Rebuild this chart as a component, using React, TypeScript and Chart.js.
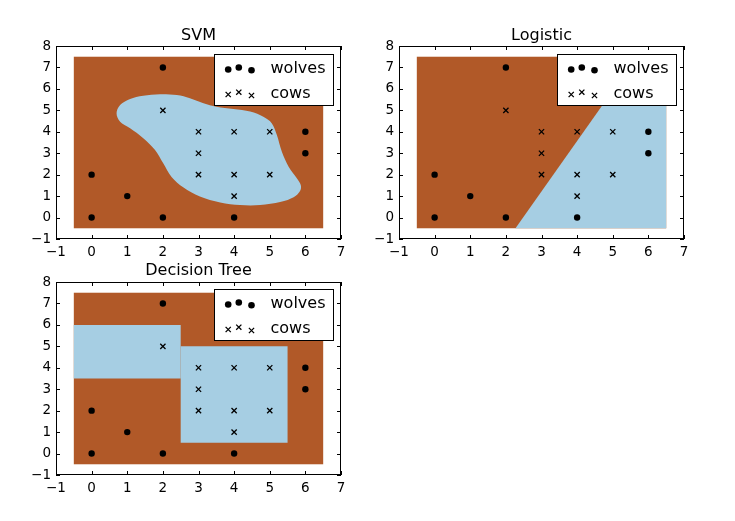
import React, { useEffect, useRef } from 'react';
import { Chart, registerables } from 'chart.js';

Chart.register(...registerables);

// ---- data ----
const wolvesX = [0, 0, 1, 2, 2, 4, 6, 6];
const wolvesY = [0, 2, 1, 0, 7, 0, 3, 4];
const cowsX = [2, 3, 3, 3, 4, 4, 4, 5, 5];
const cowsY = [5, 2, 3, 4, 1, 2, 4, 2, 4];
const legendLabels = ['wolves', 'cows'];
const xTicks = [-1, 0, 1, 2, 3, 4, 5, 6, 7];
const yTicks = [-1, 0, 1, 2, 3, 4, 5, 6, 7, 8];
const titles = ['SVM', 'Logistic', 'Decision Tree'];

// decision grid extent [xmin, xmax, ymin, ymax]
const gridExtent = [-0.5, 6.5, -0.5, 7.5];

// SVM "cows" region outline
const svmBlobX = [0.70, 0.80, 1.08, 1.45, 1.92, 2.39, 2.76, 3.14, 3.51, 3.98, 4.45, 4.82, 5.06, 5.20, 5.34, 5.53, 5.76, 5.87, 5.85, 5.67, 5.29, 4.73, 4.17, 3.61, 3.04, 2.58, 2.25, 2.01, 1.78, 1.45, 1.08, 0.80];
const svmBlobY = [4.86, 5.25, 5.53, 5.68, 5.75, 5.71, 5.56, 5.33, 5.17, 5.06, 4.94, 4.70, 4.39, 3.85, 3.07, 2.37, 1.83, 1.52, 1.24, 0.95, 0.72, 0.58, 0.58, 0.70, 0.98, 1.40, 1.88, 2.53, 3.15, 3.70, 4.16, 4.47];

// Logistic "cows" region (half plane clipped to grid)
const logisticBlueX = [2.27, 5.67, 6.5, 6.5];
const logisticBlueY = [-0.5, 7.5, 7.5, -0.5];

// Decision tree "cows" rectangles
const treeBlueX0 = [-0.5, 2.5];
const treeBlueX1 = [2.5, 5.5];
const treeBlueY0 = [3.5, 0.5];
const treeBlueY1 = [6.0, 5.0];

const BROWN = '#b15928';
const BLUE = '#a6cee3';
const FONT = "'DejaVu Sans', sans-serif";

type Region = { kind: 'smooth' | 'poly'; xs: number[]; ys: number[] };

function regionsFor(idx: number): Region[] {
  if (idx === 0) return [{ kind: 'smooth', xs: svmBlobX, ys: svmBlobY }];
  if (idx === 1) return [{ kind: 'poly', xs: logisticBlueX, ys: logisticBlueY }];
  return treeBlueX0.map((x0, i) => ({
    kind: 'poly' as const,
    xs: [x0, treeBlueX1[i], treeBlueX1[i], x0],
    ys: [treeBlueY0[i], treeBlueY0[i], treeBlueY1[i], treeBlueY1[i]],
  }));
}

const minus = (v: number) => (v < 0 ? '\u2212' + Math.abs(v) : String(v));

function Panel({ idx, left, top }: { idx: number; left: number; top: number }) {
  const ref = useRef<HTMLCanvasElement | null>(null);
  useEffect(() => {
    if (!ref.current) return;
    const regions = regionsFor(idx);
    const bgPlugin = {
      id: 'bg' + idx,
      beforeDatasetsDraw(chart: any) {
        const { ctx, chartArea: a, scales } = chart;
        const sx = scales.x, sy = scales.y;
        ctx.save();
        ctx.beginPath();
        ctx.rect(a.left, a.top, a.right - a.left, a.bottom - a.top);
        ctx.clip();
        const x0 = sx.getPixelForValue(gridExtent[0]);
        const x1 = sx.getPixelForValue(gridExtent[1]);
        const y0 = sy.getPixelForValue(gridExtent[2]);
        const y1 = sy.getPixelForValue(gridExtent[3]);
        ctx.fillStyle = BROWN;
        ctx.fillRect(x0, y1, x1 - x0, y0 - y1);
        ctx.fillStyle = BLUE;
        regions.forEach((r) => {
          const px = r.xs.map((v) => sx.getPixelForValue(v));
          const py = r.ys.map((v) => sy.getPixelForValue(v));
          const n = px.length;
          ctx.beginPath();
          if (r.kind === 'poly') {
            ctx.moveTo(px[0], py[0]);
            for (let i = 1; i < n; i++) ctx.lineTo(px[i], py[i]);
          } else {
            ctx.moveTo(px[0], py[0]);
            for (let i = 0; i < n; i++) {
              const p0 = (i - 1 + n) % n, p1 = i, p2 = (i + 1) % n, p3 = (i + 2) % n;
              const c1x = px[p1] + (px[p2] - px[p0]) / 6;
              const c1y = py[p1] + (py[p2] - py[p0]) / 6;
              const c2x = px[p2] - (px[p3] - px[p1]) / 6;
              const c2y = py[p2] - (py[p3] - py[p1]) / 6;
              ctx.bezierCurveTo(c1x, c1y, c2x, c2y, px[p2], py[p2]);
            }
          }
          ctx.closePath();
          ctx.fill();
        });
        ctx.restore();
      },
      afterDatasetsDraw(chart: any) {
        const { ctx, chartArea: a, scales } = chart;
        const sx = scales.x, sy = scales.y;
        ctx.save();
        ctx.strokeStyle = '#000';
        ctx.lineWidth = 1;
        // inward ticks
        const tl = 4;
        ctx.beginPath();
        xTicks.forEach((v) => {
          const p = Math.round(sx.getPixelForValue(v)) + 0.5;
          ctx.moveTo(p, a.bottom);
          ctx.lineTo(p, a.bottom - tl);
          ctx.moveTo(p, a.top);
          ctx.lineTo(p, a.top + tl);
        });
        yTicks.forEach((v) => {
          const p = Math.round(sy.getPixelForValue(v)) + 0.5;
          ctx.moveTo(a.left, p);
          ctx.lineTo(a.left + tl, p);
          ctx.moveTo(a.right, p);
          ctx.lineTo(a.right - tl, p);
        });
        ctx.stroke();
        ctx.strokeRect(Math.round(a.left) + 0.5, Math.round(a.top) + 0.5, Math.round(a.right - a.left) - 1, Math.round(a.bottom - a.top) - 1);

        // legend
        const lw = 119, lh = 51;
        const lx = Math.round(a.right - 8 - lw) + 0.5;
        const ly = Math.round(a.top + (idx === 2 ? 7 : 8)) + 0.5;
        ctx.fillStyle = '#fff';
        ctx.fillRect(lx, ly, lw, lh);
        ctx.strokeRect(lx, ly, lw, lh);
        const mdx = [13.7, 24.3, 37];
        const wdy = [15, 13, 15.7];
        const cdy = [40, 37.7, 41];
        ctx.fillStyle = '#000';
        mdx.forEach((dx, i) => {
          ctx.beginPath();
          ctx.arc(lx + dx, ly + wdy[i], 3.3, 0, Math.PI * 2);
          ctx.fill();
        });
        ctx.lineWidth = 1.3;
        mdx.forEach((dx, i) => {
          const cx = lx + dx, cy = ly + cdy[i], h = 2.6;
          ctx.beginPath();
          ctx.moveTo(cx - h, cy - h);
          ctx.lineTo(cx + h, cy + h);
          ctx.moveTo(cx - h, cy + h);
          ctx.lineTo(cx + h, cy - h);
          ctx.stroke();
        });
        ctx.font = `16px ${FONT}`;
        ctx.textBaseline = 'middle';
        ctx.textAlign = 'left';
        ctx.fillText(legendLabels[0], lx + 56, ly + 14.5);
        ctx.fillText(legendLabels[1], lx + 56, ly + 39.5);

        // title
        ctx.textAlign = 'center';
        ctx.textBaseline = 'alphabetic';
        ctx.fillText(titles[idx], (a.left + a.right) / 2, a.top - (idx === 2 ? 7 : 6));
        ctx.restore();
      },
    };

    const tickFont = { family: FONT, size: 13.5 };
    const chart = new Chart(ref.current, {
      type: 'scatter',
      data: {
        datasets: [
          {
            label: legendLabels[0],
            data: wolvesX.map((x, i) => ({ x, y: wolvesY[i] })),
            pointStyle: 'circle',
            pointRadius: 3.2,
            backgroundColor: '#000',
            borderColor: '#000',
            borderWidth: 0,
          },
          {
            label: legendLabels[1],
            data: cowsX.map((x, i) => ({ x, y: cowsY[i] })),
            pointStyle: 'crossRot',
            pointRadius: 3.7,
            backgroundColor: '#000',
            borderColor: '#000',
            borderWidth: 1.3,
          },
        ],
      },
      options: {
        animation: false,
        responsive: false,
        events: [],
        layout: { padding: { top: 26, right: 10, left: 0, bottom: 0 } },
        plugins: {
          legend: { display: false },
          tooltip: { enabled: false },
          title: { display: false },
        },
        scales: {
          x: {
            type: 'linear',
            min: -1,
            max: 7,
            afterBuildTicks: (s: any) => {
              s.ticks = xTicks.map((v) => ({ value: v }));
            },
            afterFit: (s: any) => {
              s.height = 22;
            },
            grid: { display: false, drawTicks: false },
            border: { display: false },
            ticks: {
              autoSkip: false,
              maxRotation: 0,
              padding: 5,
              color: '#000',
              font: tickFont,
              callback: (v: any) => minus(Number(v)),
            },
          },
          y: {
            type: 'linear',
            min: -1,
            max: 8,
            afterBuildTicks: (s: any) => {
              s.ticks = yTicks.map((v) => ({ value: v }));
            },
            afterFit: (s: any) => {
              s.width = 46;
            },
            grid: { display: false, drawTicks: false },
            border: { display: false },
            ticks: {
              autoSkip: false,
              padding: 5,
              color: '#000',
              font: tickFont,
              callback: (v: any) => minus(Number(v)),
            },
          },
        },
      } as any,
      plugins: [bgPlugin],
    });
    return () => chart.destroy();
  }, [idx]);

  return (
    <div style={{ position: 'absolute', left, top, width: 341, height: 241 }}>
      <canvas ref={ref} width={341} height={241} style={{ width: 341, height: 241, display: 'block' }} />
    </div>
  );
}

export default function App() {
  return (
    <div style={{ position: 'absolute', left: 0, top: 0, width: 735, height: 521, background: '#fff' }}>
      <Panel idx={0} left={10} top={20} />
      <Panel idx={1} left={353} top={20} />
      <Panel idx={2} left={10} top={256} />
    </div>
  );
}
